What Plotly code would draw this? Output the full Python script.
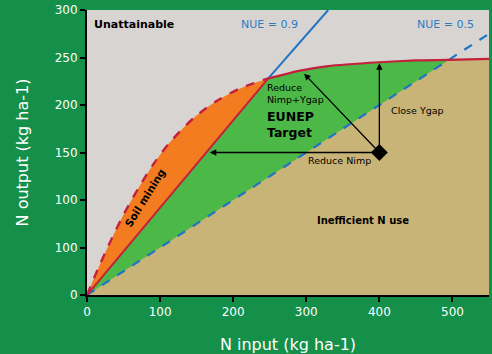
import plotly.graph_objects as go

# ---- data ----
curve_x = [0, 17, 33, 51, 70, 92, 115, 147, 179, 211, 248, 290, 330, 400, 450, 495, 550]
curve_y = [0, 31, 58, 86, 112, 139, 162, 187, 205, 218, 228, 236, 241, 245, 247, 247.5, 248.5]
nue09_x = [0, 248, 330]
nue09_y = [0, 228, 300]
nue05_x = [0, 495, 550]
nue05_y = [0, 247.5, 275]
start_pt = (400, 150)
arrow_ends = [(168, 150), (400, 244), (297, 233)]
yticks = [0, 50, 100, 150, 200, 250, 300]
ytick_text = ['0', '100', '100', '150', '200', '250', '300']
xticks = [0, 100, 200, 300, 400, 500]

RED = '#c4203c'
BLUE = '#1f74c4'
FONT = 'DejaVu Sans'

i09 = curve_x.index(nue09_x[1])
i05 = curve_x.index(nue05_x[1])

fig = go.Figure()
# orange: under dashed part of the curve
fig.add_trace(go.Scatter(x=curve_x[:i09 + 1], y=curve_y[:i09 + 1], mode='lines',
                         line=dict(width=0, shape='spline', smoothing=0.8), fill='tozeroy',
                         fillcolor='#f47c20', hoverinfo='skip'))
# green: under NUE 0.9 line then under curve
fig.add_trace(go.Scatter(x=[nue09_x[0]] + curve_x[i09:], y=[nue09_y[0]] + curve_y[i09:],
                         mode='lines', line=dict(width=0), fill='tozeroy',
                         fillcolor='#4cb848', hoverinfo='skip'))
# tan: under NUE 0.5 line then under curve
fig.add_trace(go.Scatter(x=nue05_x[:2] + curve_x[i05 + 1:], y=nue05_y[:2] + curve_y[i05 + 1:],
                         mode='lines', line=dict(width=0), fill='tozeroy',
                         fillcolor='#c9b477', hoverinfo='skip'))
# lines
fig.add_trace(go.Scatter(x=nue05_x, y=nue05_y, mode='lines',
                         line=dict(color=BLUE, width=2.2, dash='dash')))
fig.add_trace(go.Scatter(x=nue09_x[:2], y=nue09_y[:2], mode='lines',
                         line=dict(color=RED, width=2)))
fig.add_trace(go.Scatter(x=nue09_x[1:], y=nue09_y[1:], mode='lines',
                         line=dict(color=BLUE, width=2)))
fig.add_trace(go.Scatter(x=curve_x[:i09 + 1], y=curve_y[:i09 + 1], mode='lines',
                         line=dict(color=RED, width=2.4, dash='dash', shape='spline', smoothing=0.8)))
fig.add_trace(go.Scatter(x=curve_x[i09:], y=curve_y[i09:], mode='lines',
                         line=dict(color=RED, width=2.2, shape='spline', smoothing=0.5)))
fig.add_trace(go.Scatter(x=[start_pt[0]], y=[start_pt[1]], mode='markers',
                         marker=dict(symbol='diamond', size=13, color='black')))

ann = []
for ex, ey in arrow_ends:
    ann.append(dict(x=ex, y=ey, ax=start_pt[0], ay=start_pt[1], xref='x', yref='y',
                    axref='x', ayref='y', showarrow=True, arrowhead=2, arrowsize=1,
                    arrowwidth=1.3, arrowcolor='black', text=''))

def txt(x, y, s, size, bold=False, color='black', xanchor='center', angle=0):
    ann.append(dict(x=x, y=y, xref='x', yref='y', text=f'<b>{s}</b>' if bold else s,
                    showarrow=False, xanchor=xanchor, yanchor='middle', textangle=angle,
                    align='left', font=dict(family=FONT, size=size, color=color)))

txt(7, 285, 'Unattainable', 11, bold=True, xanchor='left')
txt(249, 285, 'NUE = 0.9', 11, color='#2c7cc1')
txt(490, 285, 'NUE = 0.5', 11, color='#2c7cc1')
txt(243, 212, 'Reduce<br>Nimp+Ygap', 9.5, xanchor='left')
txt(243, 179, 'EUNEP<br>Target', 12.5, bold=True, xanchor='left')
txt(452, 194, 'Close Ygap', 9.5)
txt(346, 142, 'Reduce Nimp', 9.5)
txt(377, 78, 'Inefficient N use', 10, bold=True)
txt(79, 102, 'Soil mining', 10.5, bold=True, angle=-58)

fig.update_layout(
    width=492, height=354,
    margin=dict(l=87, r=3, t=10, b=59, autoexpand=False),
    paper_bgcolor='#15904a', plot_bgcolor='#d8d4d1',
    showlegend=False, annotations=ann,
    font=dict(family=FONT, color='white', size=12),
)
fig.update_xaxes(range=[0, 550], tickvals=xticks, showgrid=False, zeroline=False,
                 showline=True, linecolor='black', linewidth=2, ticks='outside',
                 ticklen=5, tickwidth=2, tickcolor='black', automargin=False,
                 tickfont=dict(family=FONT, size=12, color='white'),
                 title=dict(text='N input (kg ha-1)', font=dict(family=FONT, size=16, color='white'),
                            standoff=20))
fig.update_yaxes(range=[0, 300], tickvals=yticks, ticktext=ytick_text, showgrid=False,
                 zeroline=False, showline=True, linecolor='black', linewidth=2,
                 ticks='outside', ticklen=5, tickwidth=2, tickcolor='black', automargin=False,
                 tickfont=dict(family=FONT, size=12, color='white'),
                 title=dict(text='N output (kg ha-1)', font=dict(family=FONT, size=16, color='white'),
                            standoff=22))

fig.write_html('out.html', config={'displayModeBar': False},
               post_script="document.body.style.margin='0';")
